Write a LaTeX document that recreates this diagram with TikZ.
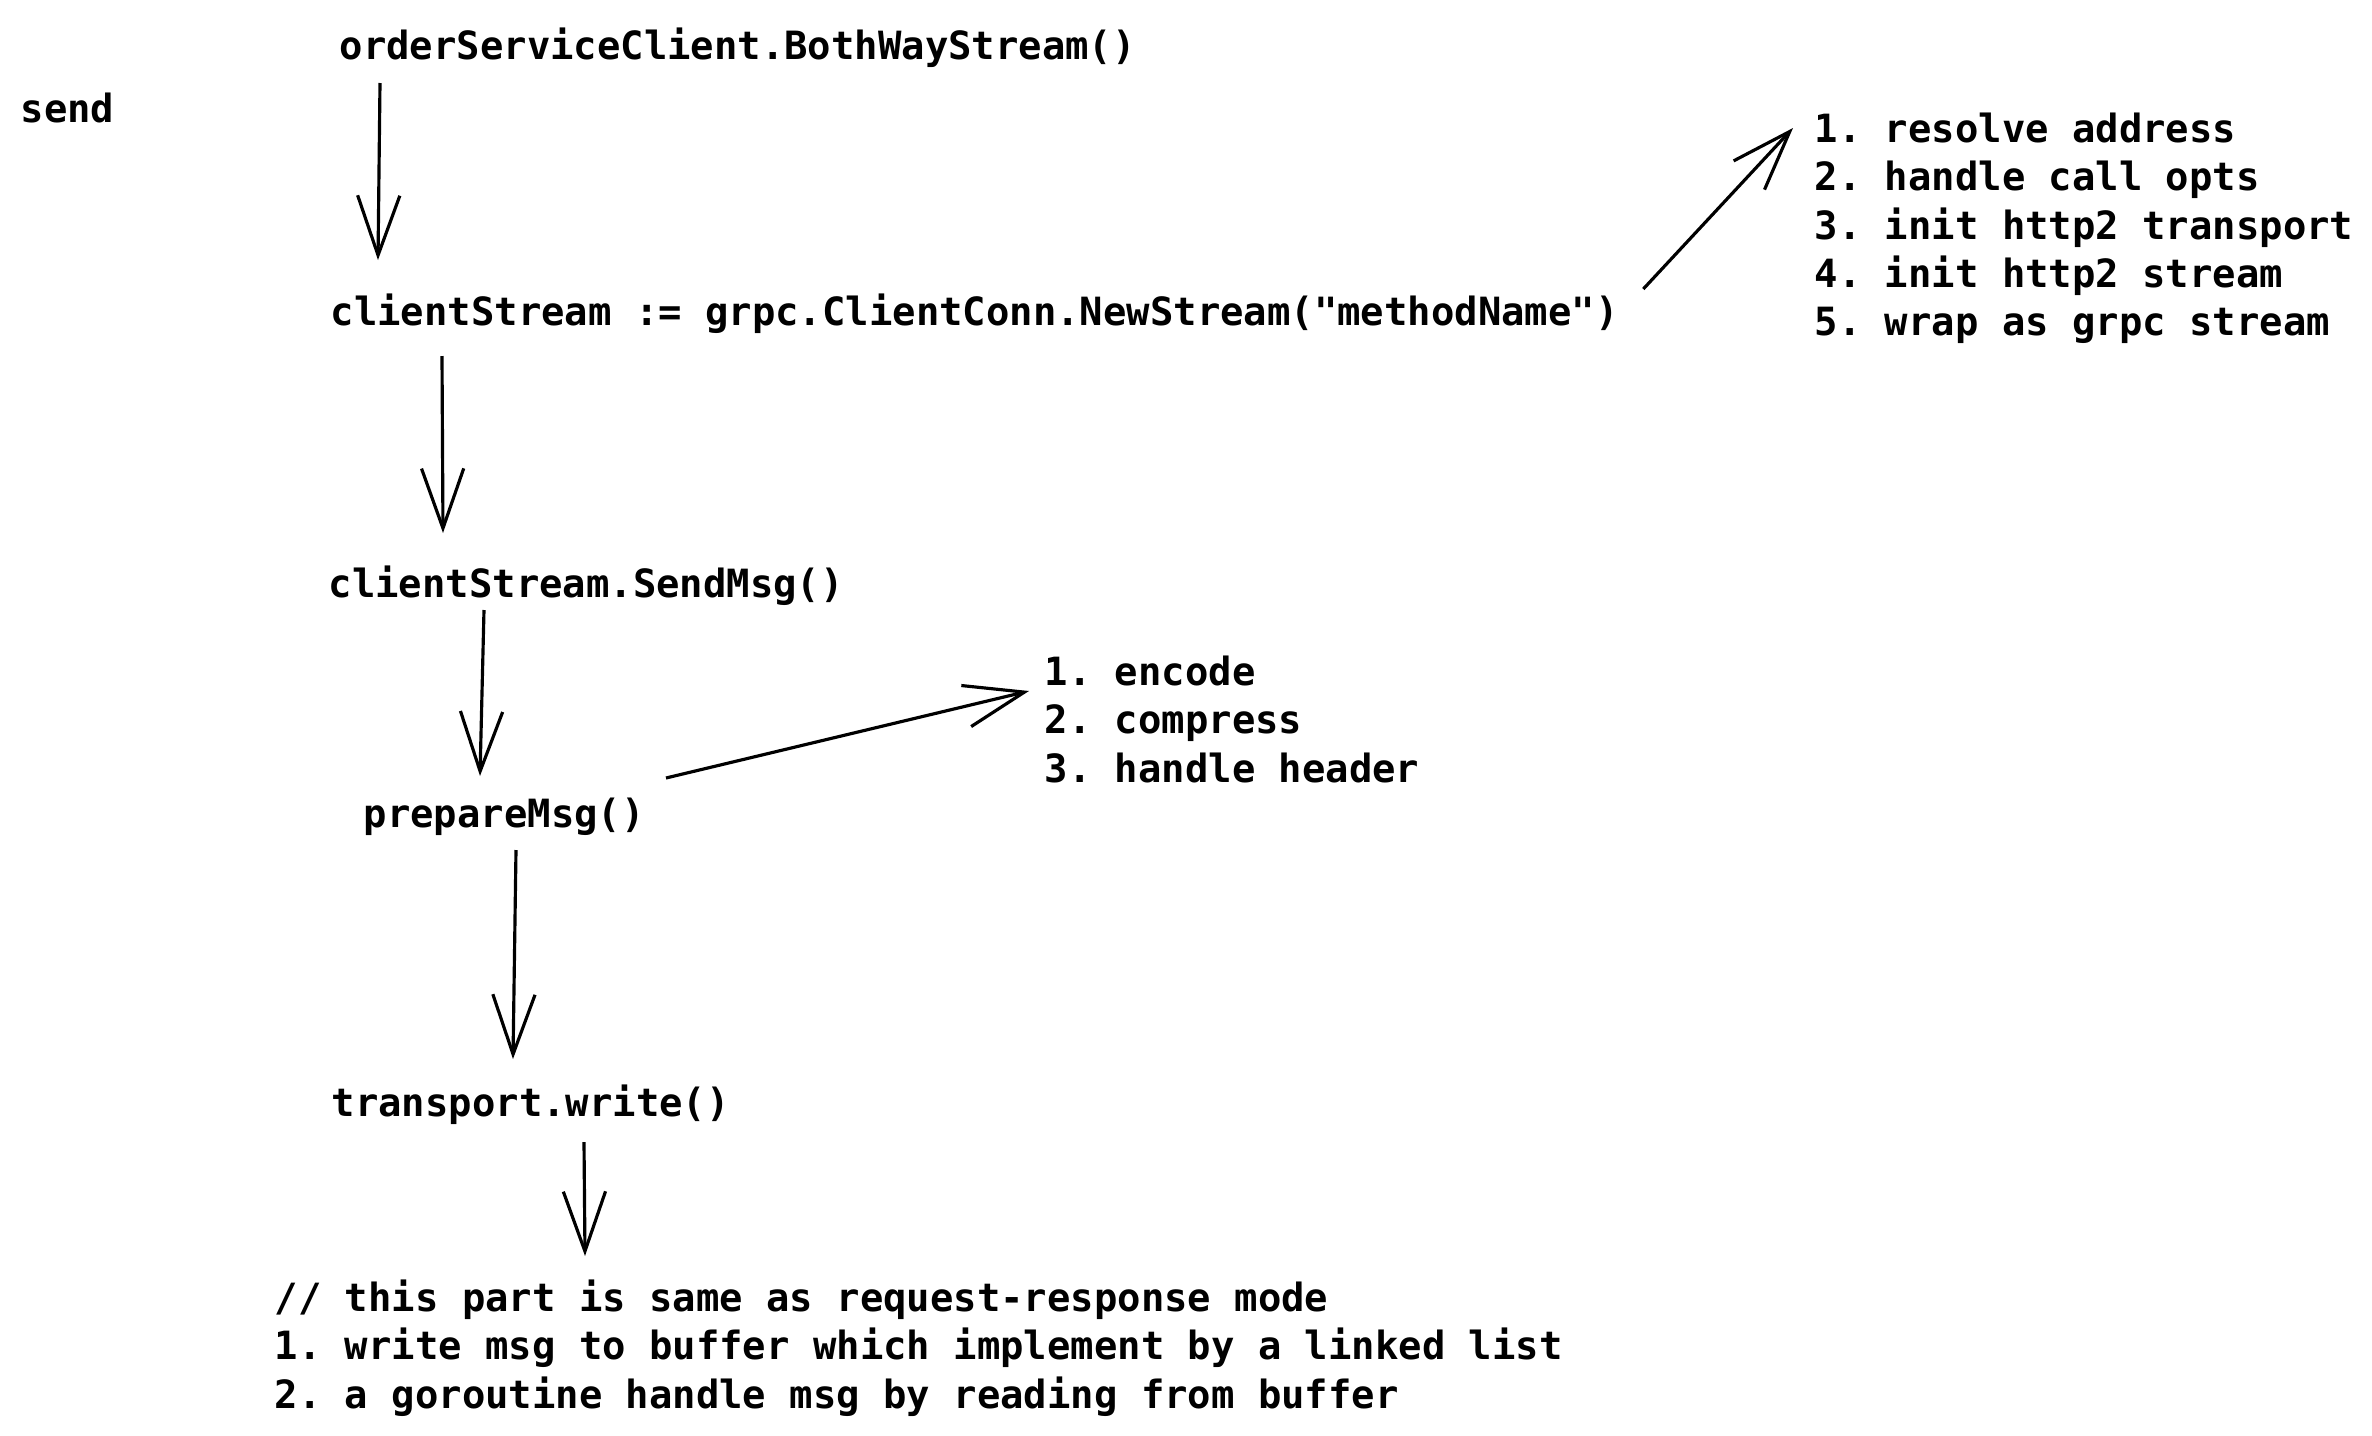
\documentclass[tikz,border=0pt]{standalone}
\usepackage{fontspec}
\setmonofont{DejaVu Sans Mono}
\usetikzlibrary{arrows.meta,calc}
\begin{document}
\begin{tikzpicture}[x=0.01cm,y=-0.01cm,font=\ttfamily\bfseries\fontsize{11.06pt}{13.77pt}\selectfont,
txt/.style={inner sep=0pt,anchor=base west},lst/.style={inner sep=0pt,anchor=north west,align=left},
arr/.style={line width=0.9pt,-{Straight Barb[length=17pt,width=12pt]}}]
\useasboundingbox (0,0) rectangle (2372,1436);
\node[txt] (send) at (20,122){send};
\node[txt] (order) at (339,59){orderServiceClient.BothWayStream()};
\node[txt] (stream) at (330,325){clientStream := grpc.ClientConn.NewStream("methodName")};
\node[txt] (sendmsg) at (328,597){clientStream.SendMsg()};
\node[txt] (prepare) at (363,827){prepareMsg()};
\node[txt] (write) at (331,1116){transport.write()};
\node[lst] (opts) at (1814,112){1. resolve address\\2. handle call opts\\3. init http2 transport\\4. init http2 stream\\5. wrap as grpc stream};
\node[lst] (steps) at (1044,655){1. encode\\2. compress\\3. handle header};
\node[lst] (buffer) at (274,1279){// this part is same as request-response mode\\1. write msg to buffer which implement by a linked list\\2. a goroutine handle msg by reading from buffer};
\draw[arr] ($(order.base west)+(41,24)$) -- ($(stream.base west)+(48,-65)$);
\draw[arr] ($(stream.base west)+(112,31)$) -- ($(sendmsg.base west)+(115,-64)$);
\draw[arr] ($(stream.base east)+(24,-36)$) -- ($(opts.north west)+(-21,16)$);
\draw[arr] ($(sendmsg.base west)+(156,13)$) -- ($(prepare.base west)+(117,-51)$);
\draw[arr] ($(prepare.base west)+(303,-49)$) -- ($(steps.north west)+(-15,36)$);
\draw[arr] ($(prepare.base west)+(153,23)$) -- ($(write.base west)+(182,-57)$);
\draw[arr] ($(write.base west)+(253,26)$) -- ($(buffer.north west)+(311,-23)$);
\end{tikzpicture}
\end{document}
